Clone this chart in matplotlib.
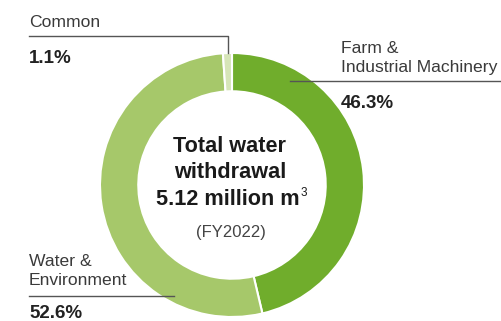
import matplotlib
matplotlib.use("Agg")
import matplotlib.pyplot as plt

categories = ["Farm &\nIndustrial Machinery", "Water &\nEnvironment", "Common"]
shares = [46.3, 52.6, 1.1]
pct_labels = ["46.3%", "52.6%", "1.1%"]
colors = ["#70ad2c", "#a6c86a", "#d6e5b8"]
center_lines = ["Total water", "withdrawal", "5.12 million m"]
unit_sup = "3"
period = "(FY2022)"

W, H = 502, 321
fig = plt.figure(figsize=(W / 100, H / 100), dpi=100)
ax = fig.add_axes([0, 0, 1, 1])
plt.rcParams["font.family"] = ["Liberation Sans", "DejaVu Sans"]

def Y(py):
    return H - py

cx, cy, R = 232, Y(185), 132
ax.pie(shares, colors=colors, startangle=90, counterclock=False,
       center=(cx, cy), radius=R, frame=True,
       wedgeprops=dict(width=R * 0.29, edgecolor="white", linewidth=1.5))
ax.set_xlim(0, W)
ax.set_ylim(0, H)
ax.set_aspect("equal")
ax.axis("off")

lab_fs = 12.6
pct_fs = 13.5
txt_col = "#3a3a3a"
line_col = "#555555"

# Common
ax.text(29, Y(27), categories[2], fontsize=lab_fs, color=txt_col, va="baseline", ha="left")
ax.plot([29, 228, 228], [Y(36), Y(36), Y(53)], color=line_col, lw=1)
ax.text(29, Y(63), pct_labels[2], fontsize=pct_fs, fontweight="bold", color="#222222", va="baseline", ha="left")

# Farm
ax.text(341, Y(72), categories[0], fontsize=lab_fs, color=txt_col, va="baseline", ha="left", linespacing=1.3)
ax.plot([290, 502], [Y(81), Y(81)], color=line_col, lw=1)
ax.text(341, Y(108), pct_labels[0], fontsize=pct_fs, fontweight="bold", color="#222222", va="baseline", ha="left")

# Water
ax.text(29, Y(285), categories[1], fontsize=lab_fs, color=txt_col, va="baseline", ha="left", linespacing=1.3)
ax.plot([29, 174], [Y(296), Y(296)], color=line_col, lw=1)
ax.text(29, Y(318), pct_labels[1], fontsize=pct_fs, fontweight="bold", color="#222222", va="baseline", ha="left")

# Center
cfs = 15.6
ax.text(230, Y(152), center_lines[0], fontsize=cfs, fontweight="bold", color="#1a1a1a", va="baseline", ha="center")
ax.text(230, Y(178), center_lines[1], fontsize=cfs, fontweight="bold", color="#1a1a1a", va="baseline", ha="center")
t3 = ax.text(228, Y(205), center_lines[2], fontsize=cfs, fontweight="bold", color="#1a1a1a", va="baseline", ha="center")
ax.annotate(unit_sup, xy=(1.0, 1.0), xycoords=t3, xytext=(0.2, 1.5), textcoords="offset points",
            fontsize=8.5, color="#1a1a1a", va="top", ha="left")
ax.text(231, Y(237), period, fontsize=12, color="#444444", va="baseline", ha="center")

fig.savefig("out.png", dpi=100)
